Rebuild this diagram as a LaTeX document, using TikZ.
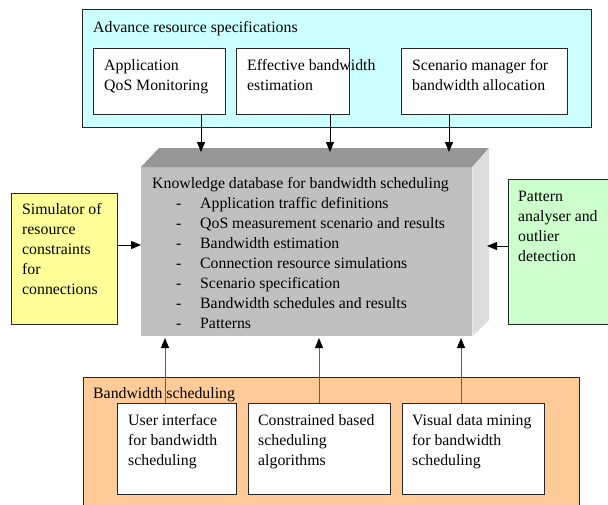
\documentclass[tikz,border=0pt]{standalone}
\usepackage{fontspec}
\setmainfont{Liberation Serif}
\usetikzlibrary{arrows.meta}
\definecolor{cyanbg}{HTML}{CCFFFF}
\definecolor{yellowbg}{HTML}{FFFF99}
\definecolor{greenbg}{HTML}{CCFFCC}
\definecolor{orangebg}{HTML}{FFCC99}
\definecolor{gfront}{HTML}{C0C0C0}
\definecolor{gtop}{HTML}{969696}
\definecolor{gside}{HTML}{DDDDDD}
\definecolor{upline}{HTML}{606060}
\newcommand\stack[1]{\vtop{\baselineskip=20pt\lineskiplimit=-30pt\halign{##\hfil\cr#1\crcr}}}
\newcommand\itm{\hspace*{24pt}\makebox[24pt][l]{-}}
\begin{document}
\begin{tikzpicture}[x=1pt,y=-1pt,
  txt/.style={anchor=base west, inner sep=0pt, font=\fontsize{15.8pt}{20pt}\selectfont},
  box/.style={draw=black!85, line width=1pt, fill=white, anchor=north west, inner sep=0pt},
  container/.style={draw=black!85, line width=1pt, anchor=north west, inner sep=0pt},
  arr/.style={-{Triangle[length=10pt,width=8pt]}, line width=1pt},
  uarr/.style={-{Triangle[length=10pt,width=8pt,color=black]}, line width=1pt, draw=upline}]
\useasboundingbox (0,0) rectangle (608,504);
\clip (0,0) rectangle (608,504);

% containers
\node[container, fill=cyanbg, minimum width=509pt, minimum height=118pt] (spec) at (82,9) {};
\node[container, fill=orangebg, minimum width=496pt, minimum height=140pt] (sched) at (83,377) {};
\node[container, fill=yellowbg, minimum width=106pt, minimum height=131pt] (ysim) at (11,193) {};
\node[container, fill=greenbg, minimum width=110pt, minimum height=145pt] (gpat) at (508,179) {};

% knowledge database block
\node[fill=gfront, anchor=north west, inner sep=0pt, minimum width=331pt, minimum height=169pt] (kb) at (141,167) {};
\fill[gtop] (kb.north west) -- (159,148) -- (489,148) -- (kb.north east) -- cycle;
\fill[gside] (kb.north east) -- (489,148) -- (489,320) -- (kb.south east) -- cycle;

% top inner boxes
\node[box, minimum width=132pt, minimum height=66pt] (t1) at (93,48) {};
\node[box, minimum width=113pt, minimum height=66pt] (t2) at (236,48) {};
\node[box, minimum width=166pt, minimum height=66pt] (t3) at (401,48) {};

% bottom inner boxes
\node[box, minimum width=119pt, minimum height=91pt] (u1) at (117,403) {};
\node[box, minimum width=142pt, minimum height=91pt] (u2) at (248,403) {};
\node[box, minimum width=142pt, minimum height=91pt] (u3) at (402,403) {};

% texts
\node[txt] (spectitle) at (93,32) {Advance resource specifications};
\node[txt] (t1txt) at (104,70.5) {\stack{Application\cr QoS Monitoring}};
\node[txt] (t2txt) at (247,70.5) {\stack{Effective bandwidth\cr estimation}};
\node[txt] (t3txt) at (412,70.5) {\stack{Scenario manager for\cr bandwidth allocation}};
\node[txt] (kbtxt) at (152,188) {\stack{Knowledge database for bandwidth scheduling\cr
  \itm Application traffic definitions\cr
  \itm QoS measurement scenario and results\cr
  \itm Bandwidth estimation\cr
  \itm Connection resource simulations\cr
  \itm Scenario specification\cr
  \itm Bandwidth schedules and results\cr
  \itm Patterns}};
\node[txt] (ytxt) at (22,214) {\stack{Simulator of\cr resource\cr constraints\cr for\cr connections}};
\node[txt] (gtxt) at (518,201) {\stack{Pattern\cr analyser and\cr outlier\cr detection}};
\node[txt] (schedtitle) at (93,398) {Bandwidth scheduling};
\node[txt] (u1txt) at (128,425) {\stack{User interface\cr for bandwidth\cr scheduling}};
\node[txt] (u2txt) at (258,425) {\stack{Constrained based\cr scheduling\cr algorithms}};
\node[txt] (u3txt) at (412,425) {\stack{Visual data mining\cr for bandwidth\cr scheduling}};

% connector end points
\coordinate (c1) at (201,152);
\coordinate (c2) at (330,152);
\coordinate (c3) at (449,152);
\coordinate (d1) at (165,338);
\coordinate (d2) at (319,338);
\coordinate (d3) at (461,338);
\coordinate (ly) at (0,245);
\coordinate (gr) at (487,246);

% connectors
\draw[arr] (t1.south -| c1) -- (c1);
\draw[arr] (t2.south -| c2) -- (c2);
\draw[arr] (t3.south -| c3) -- (c3);
\draw[arr] (ysim.east |- ly) -- (kb.west |- ly);
\draw[arr] (gpat.west |- gr) -- (gr);
\draw[uarr] (u1.north -| d1) -- (d1);
\draw[uarr] (u2.north -| d2) -- (d2);
\draw[uarr] (u3.north -| d3) -- (d3);
\end{tikzpicture}
\end{document}
